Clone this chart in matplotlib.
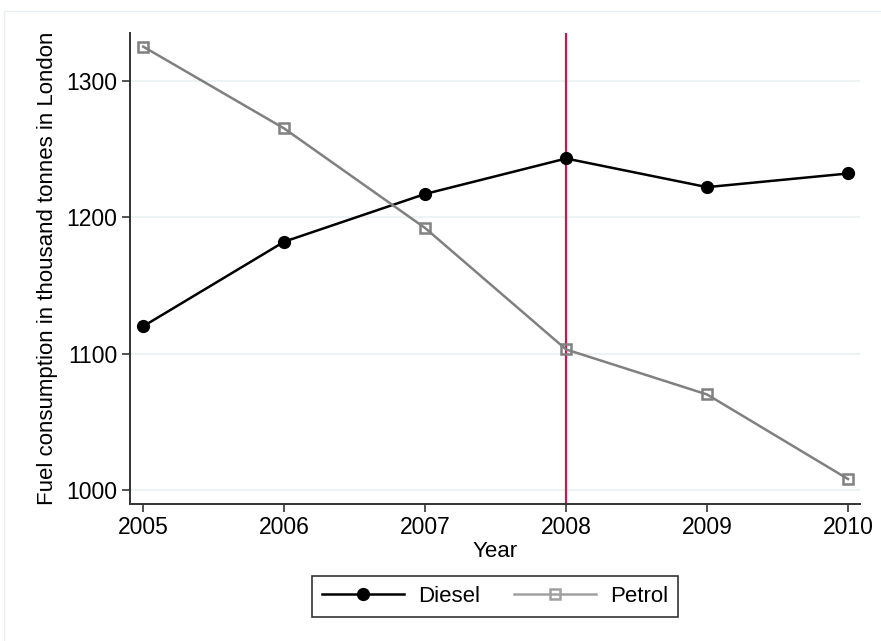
import matplotlib
matplotlib.use("Agg")
import matplotlib.pyplot as plt
from matplotlib.patches import Rectangle
from matplotlib.lines import Line2D

plt.rcParams['font.family'] = ['Liberation Sans', 'DejaVu Sans']

years = [2005, 2006, 2007, 2008, 2009, 2010]
diesel = [1120, 1182, 1217, 1243, 1222, 1232]
petrol = [1325, 1265, 1192, 1103, 1070, 1008]
yticks = [1000, 1100, 1200, 1300]
policy_year = 2008

W, H = 881, 641
fig = plt.figure(figsize=(W / 100, H / 100), dpi=100)
fig.patch.set_facecolor('white')

# light outer frame
fig.patches.append(Rectangle((4 / W, -0.1), 1.2, 1 - 11 / H + 0.1,
                             transform=fig.transFigure, fill=False,
                             edgecolor='#e6eef0', linewidth=1.0))

ax = fig.add_axes([130 / W, 1 - 504 / H, (860 - 130) / W, (504 - 33) / H])
ax.set_facecolor('white')

for yv in yticks:
    ax.axhline(yv, color='#eaf2f3', linewidth=1.3, zorder=0)

ax.plot(years, diesel, color='black', linewidth=1.8, marker='o',
        markersize=8.5, markerfacecolor='black', markeredgecolor='black',
        zorder=3, label='Diesel')
ax.plot(years, petrol, color='#808080', linewidth=1.8, marker='s',
        markersize=7.2, markerfacecolor='none', markeredgecolor='#808080',
        markeredgewidth=1.8, zorder=3, label='Petrol')
ax.axvline(policy_year, color='#c8194a', linewidth=1.6, zorder=2)

ax.set_xlim(2004.906, 2010.085)
ax.set_ylim(989.7, 1335)
ax.set_xticks(years)
ax.set_yticks(yticks)
ax.tick_params(axis='both', direction='out', length=6, width=1.2,
               color='#333333', labelsize=16.5, pad=3)

for s in ['top', 'right']:
    ax.spines[s].set_visible(False)
for s in ['left', 'bottom']:
    ax.spines[s].set_color('#333333')
    ax.spines[s].set_linewidth(1.4)

ax.set_xlabel('Year', fontsize=16, labelpad=1)
ax.set_ylabel('Fuel consumption in thousand tonnes in London', fontsize=16, labelpad=6)

handles = [
    Line2D([], [], color='black', linewidth=1.8, marker='o', markersize=8.5,
           markerfacecolor='black'),
    Line2D([], [], color='#a0a0a0', linewidth=1.8, marker='s', markersize=7,
           markerfacecolor='none', markeredgecolor='#a0a0a0', markeredgewidth=1.8),
]
leg = fig.legend(handles, ['Diesel', 'Petrol'], loc='center',
                 bbox_to_anchor=(495 / W, 1 - 596 / H), ncol=2,
                 fontsize=16, frameon=True, fancybox=False,
                 handlelength=3.7, handletextpad=0.65, columnspacing=1.5,
                 borderpad=0.45, borderaxespad=0)
leg.get_frame().set_edgecolor('black')
leg.get_frame().set_linewidth(1.2)

fig.savefig('out.png', dpi=100, facecolor='white')
